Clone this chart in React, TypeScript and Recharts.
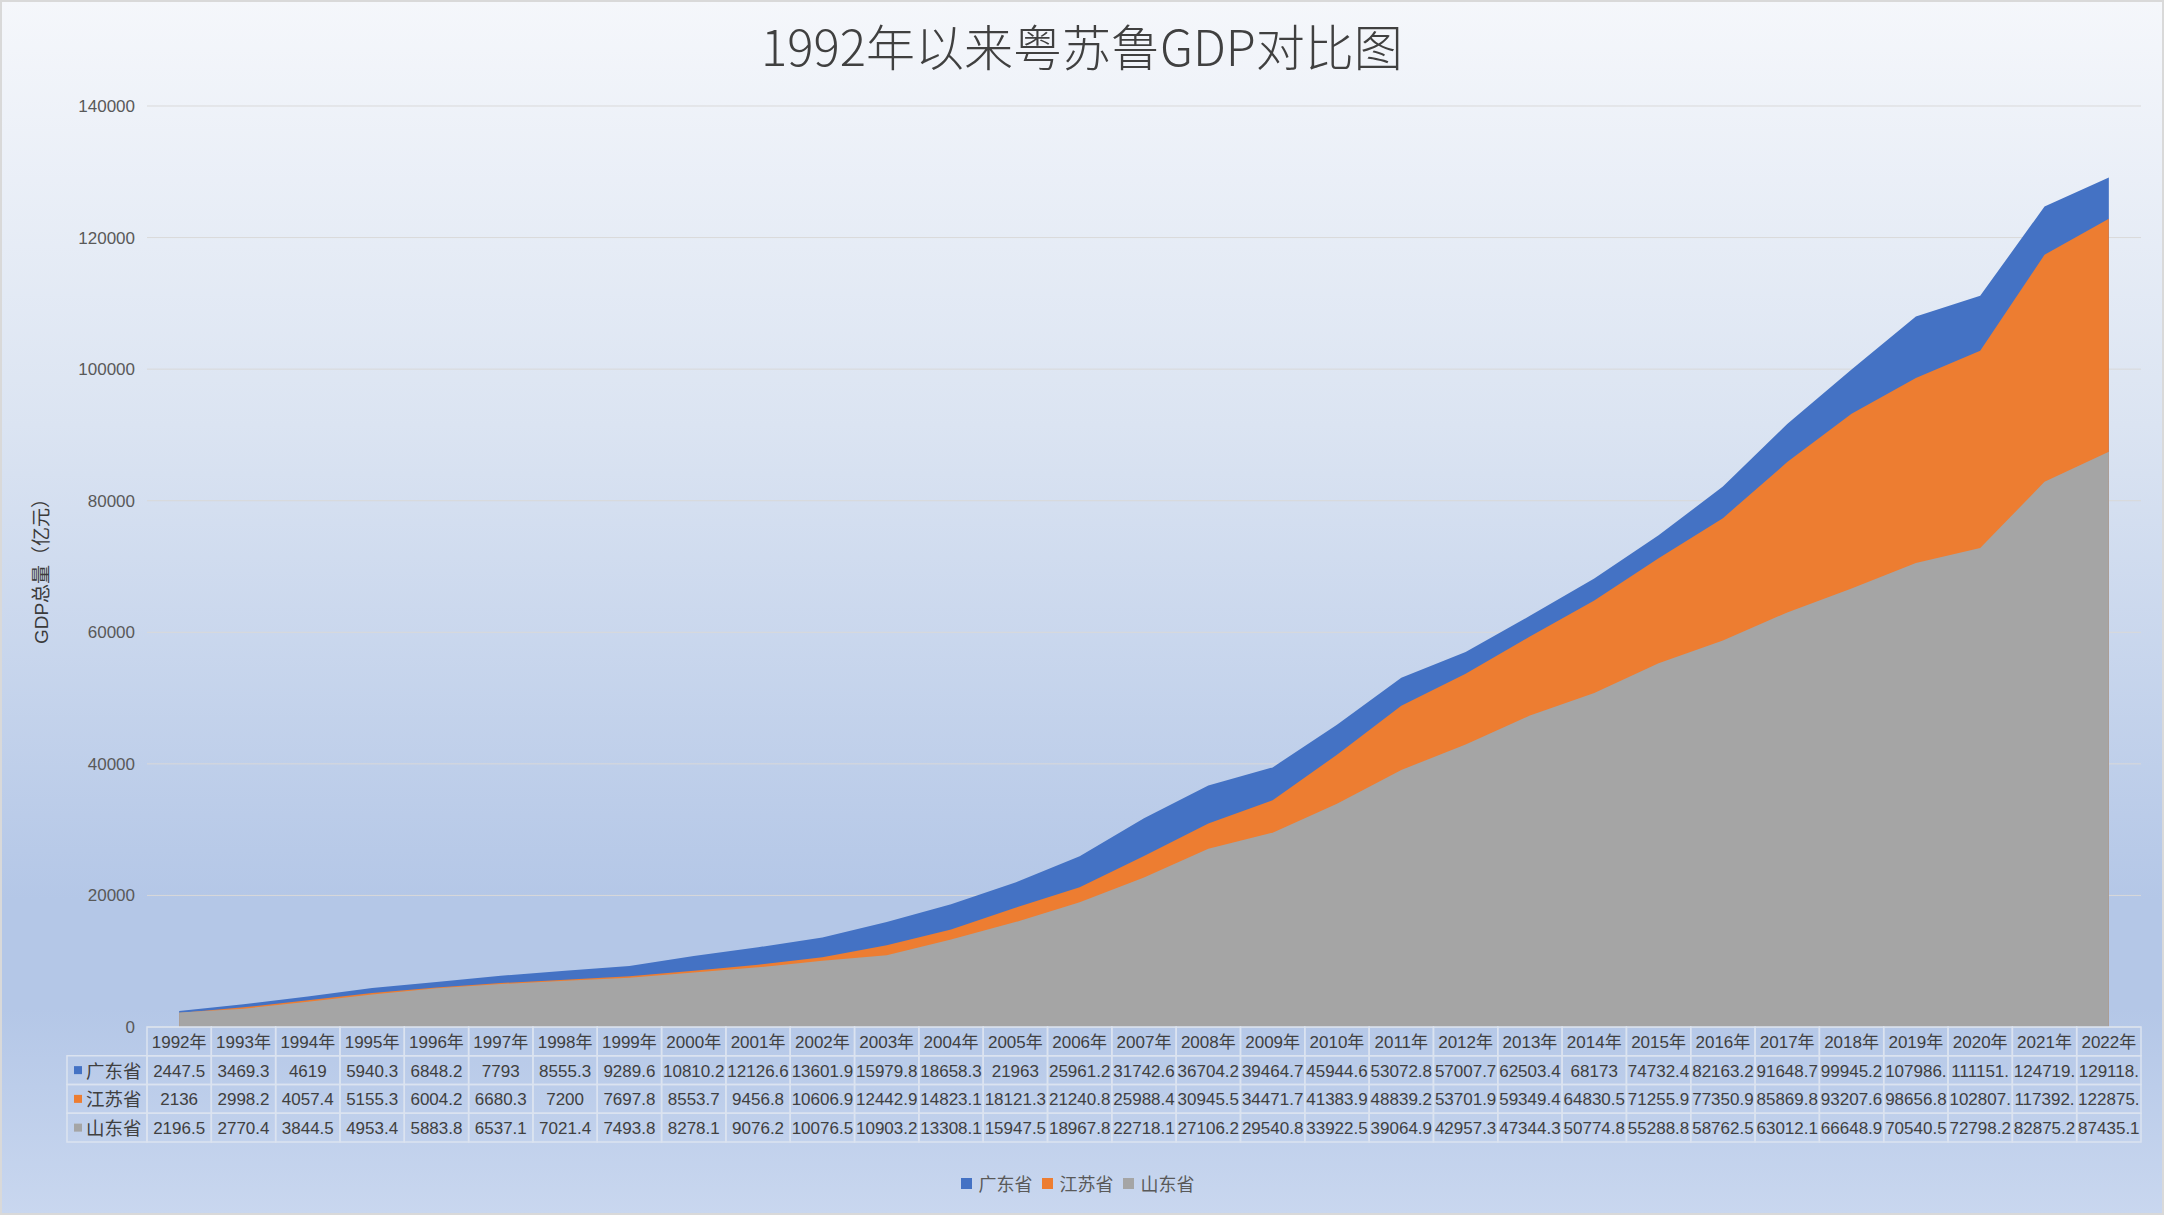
import { Area, AreaChart, CartesianGrid, Legend, XAxis, YAxis } from "recharts";

const years = [
  "1992年", "1993年", "1994年", "1995年", "1996年", "1997年", "1998年", "1999年",
  "2000年", "2001年", "2002年", "2003年", "2004年", "2005年", "2006年", "2007年",
  "2008年", "2009年", "2010年", "2011年", "2012年", "2013年", "2014年", "2015年",
  "2016年", "2017年", "2018年", "2019年", "2020年", "2021年", "2022年",
];

const guangdong = [
  2447.5, 3469.3, 4619, 5940.3, 6848.2, 7793, 8555.3, 9289.6,
  10810.2, 12126.6, 13601.9, 15979.8, 18658.3, 21963, 25961.2, 31742.6,
  36704.2, 39464.7, 45944.6, 53072.8, 57007.7, 62503.4, 68173, 74732.4,
  82163.2, 91648.7, 99945.2, 107986.9, 111151.6, 124719.5, 129118.6,
];

const jiangsu = [
  2136, 2998.2, 4057.4, 5155.3, 6004.2, 6680.3, 7200, 7697.8,
  8553.7, 9456.8, 10606.9, 12442.9, 14823.1, 18121.3, 21240.8, 25988.4,
  30945.5, 34471.7, 41383.9, 48839.2, 53701.9, 59349.4, 64830.5, 71255.9,
  77350.9, 85869.8, 93207.6, 98656.8, 102807.7, 117392.4, 122875.6,
];

const shandong = [
  2196.5, 2770.4, 3844.5, 4953.4, 5883.8, 6537.1, 7021.4, 7493.8,
  8278.1, 9076.2, 10076.5, 10903.2, 13308.1, 15947.5, 18967.8, 22718.1,
  27106.2, 29540.8, 33922.5, 39064.9, 42957.3, 47344.3, 50774.8, 55288.8,
  58762.5, 63012.1, 66648.9, 70540.5, 72798.2, 82875.2, 87435.1,
];

const seriesNames = ["广东省", "江苏省", "山东省"];
const yTicks = [0, 20000, 40000, 60000, 80000, 100000, 120000, 140000];

const COLORS = ["#4472C4", "#ED7D31", "#A5A5A5"];
const rows = [guangdong, jiangsu, shandong];
const data = years.map((year, i) => ({
  year,
  gd: guangdong[i],
  js: jiangsu[i],
  sd: shandong[i],
}));

const W = 2164;
const H = 1215;
const PLOT_LEFT = 147;
const PLOT_RIGHT = 2141;
const BAND = (PLOT_RIGHT - PLOT_LEFT) / years.length;
const ROW_H = 28.75;
const LABEL_COL = 80;
const FONT = "'Liberation Sans', 'Noto Sans CJK SC', sans-serif";
const CELL_LINE = "#dbe3f0";
const TEXT = "#404040";

// excel cuts long numbers to the cell width
const fmt = (v: number) => String(v).slice(0, 7);

function TableTick(props: any) {
  const { x, y, payload } = props;
  const i = payload.index;
  const left = x - BAND / 2;
  return (
    <g fontFamily={FONT} fill={TEXT}>
      <rect x={left} y={y} width={BAND} height={ROW_H} fill="none" stroke={CELL_LINE} strokeWidth={1.5} />
      <text x={x} y={y + ROW_H / 2 + 1} textAnchor="middle" dominantBaseline="central" fontSize={17}>
        {payload.value}
      </text>
      {rows.map((vals, r) => (
        <g key={r}>
          <rect
            x={left}
            y={y + ROW_H * (r + 1)}
            width={BAND}
            height={ROW_H}
            fill="none"
            stroke={CELL_LINE}
            strokeWidth={1.5}
          />
          <text
            x={x}
            y={y + ROW_H * (r + 1.5) + 1}
            textAnchor="middle"
            dominantBaseline="central"
            fontSize={17}
          >
            {fmt(vals[i])}
          </text>
        </g>
      ))}
      {i === 0 &&
        seriesNames.map((name, r) => (
          <g key={name}>
            <rect
              x={left - LABEL_COL}
              y={y + ROW_H * (r + 1)}
              width={LABEL_COL}
              height={ROW_H}
              fill="none"
              stroke={CELL_LINE}
              strokeWidth={1.5}
            />
            <rect x={left - LABEL_COL + 7} y={y + ROW_H * (r + 1.5) - 4} width={8} height={8} fill={COLORS[r]} />
            <text
              x={left - LABEL_COL + 19}
              y={y + ROW_H * (r + 1.5) + 1}
              dominantBaseline="central"
              fontSize={18.5}
            >
              {name}
            </text>
          </g>
        ))}
    </g>
  );
}

function YTitle(props: any) {
  const vb = props.viewBox || { x: 0, y: 106, width: 147, height: 921 };
  const cx = 41;
  const cy = vb.y + vb.height / 2;
  return (
    <text
      x={cx}
      y={cy}
      transform={`rotate(-90 ${cx} ${cy})`}
      textAnchor="middle"
      dominantBaseline="central"
      fontFamily={FONT}
      fontSize={19}
      fill="#3a3a3a"
    >
      GDP总量（亿元）
    </text>
  );
}

function LegendContent() {
  return (
    <div
      style={{
        display: "flex",
        justifyContent: "center",
        alignItems: "center",
        fontFamily: FONT,
        fontSize: 18,
        color: "#595959",
      }}
    >
      {seriesNames.map((name, i) => (
        <span key={name} style={{ display: "flex", alignItems: "center", marginRight: 9 }}>
          <span style={{ width: 11, height: 11, background: COLORS[i], marginRight: 7 }} />
          {name}
        </span>
      ))}
    </div>
  );
}

export default function App() {
  return (
    <div
      style={{
        position: "relative",
        width: W,
        height: H,
        overflow: "hidden",
        background:
          "linear-gradient(180deg, #f5f7fb 0%, #dbe4f2 35%, #b4c7e7 74%, #b4c7e7 83%, #c9d7ef 100%)",
      }}
    >
      <style>{`body{margin:0}`}</style>
      <div
        style={{
          position: "absolute",
          top: 15,
          left: 0,
          width: W,
          textAlign: "center",
          fontFamily: "'Noto Sans CJK SC', sans-serif",
          fontWeight: 300,
          fontSize: 49,
          lineHeight: "60px",
          color: TEXT,
        }}
      >
        1992年以来粤苏鲁GDP对比图
      </div>
      <div style={{ position: "absolute", left: 0, top: 0 }}>
        <AreaChart
          width={W}
          height={H}
          data={data}
          margin={{ top: 106, right: W - PLOT_RIGHT, bottom: 73, left: 0 }}
        >
          <CartesianGrid vertical={false} stroke="#d9d9d9" />
          <XAxis
            dataKey="year"
            height={115}
            interval={0}
            tickSize={0}
            tickMargin={0}
            axisLine={false}
            tickLine={false}
            padding={{ left: BAND / 2, right: BAND / 2 }}
            tick={<TableTick />}
          />
          <YAxis
            width={PLOT_LEFT}
            domain={[0, 140000]}
            ticks={yTicks}
            interval={0}
            tickSize={0}
            tickMargin={12}
            axisLine={false}
            tickLine={false}
            tick={{ fontSize: 17, fill: "#595959", fontFamily: FONT }}
            label={{ content: YTitle }}
          />
          <Area type="linear" dataKey="gd" name={seriesNames[0]} stroke="none" fill={COLORS[0]} fillOpacity={1} dot={false} activeDot={false} isAnimationActive={false} />
          <Area type="linear" dataKey="js" name={seriesNames[1]} stroke="none" fill={COLORS[1]} fillOpacity={1} dot={false} activeDot={false} isAnimationActive={false} />
          <Area type="linear" dataKey="sd" name={seriesNames[2]} stroke="none" fill={COLORS[2]} fillOpacity={1} dot={false} activeDot={false} isAnimationActive={false} />
          <Legend
            verticalAlign="middle"
            align="center"
            content={<LegendContent />}
            wrapperStyle={{ top: 1170, left: 0, width: W }}
          />
        </AreaChart>
      </div>
      <div
        style={{
          position: "absolute",
          inset: 0,
          border: "2px solid #d9d9d9",
          pointerEvents: "none",
        }}
      />
    </div>
  );
}
